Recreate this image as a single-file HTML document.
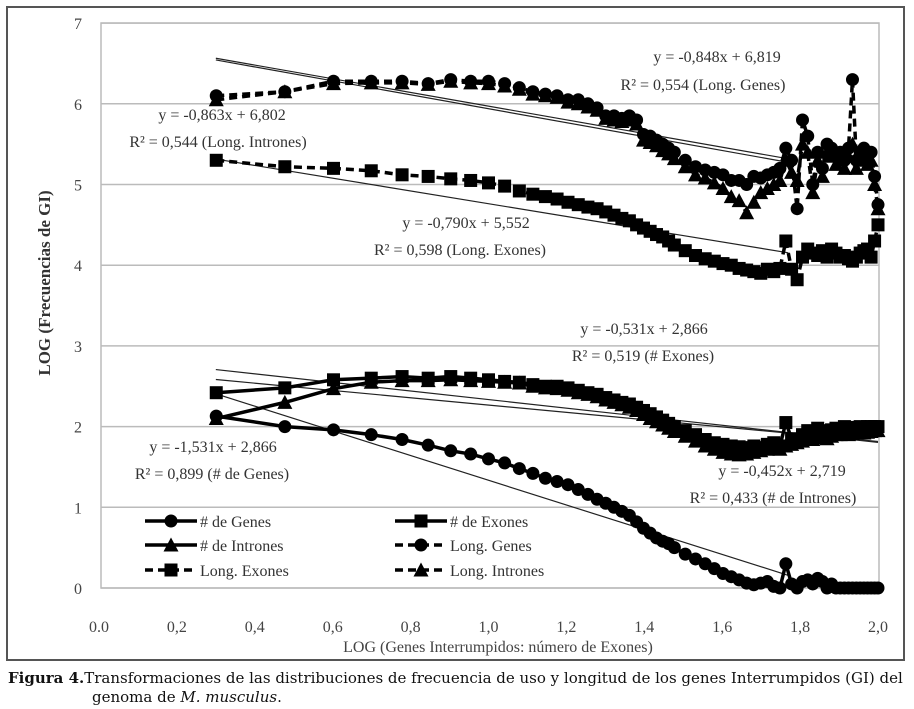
<!DOCTYPE html>
<html><head><meta charset="utf-8"><style>
body{margin:0;background:#fff;width:914px;height:709px;overflow:hidden;font-family:"Liberation Serif",serif}
svg{position:absolute;left:0;top:0}
.cap{position:absolute;left:8px;font-size:15px;color:#111;font-family:"DejaVu Serif",serif;white-space:nowrap}
</style></head><body>
<svg id="chart" width="914" height="709" xmlns="http://www.w3.org/2000/svg"></svg>
<div class="cap" style="top:669px"><b>Figura 4.</b>Transformaciones de las distribuciones de frecuencia de uso y longitud de los genes Interrumpidos (GI) del</div>
<div class="cap" style="top:688px;left:92px">genoma de <i>M. musculus</i>.</div>
<script>
const exonCounts=[2,3,4,5,6,7,8,9,10,11,12,13,14,15,16,17,18,19,20,21,22,23,24,25,26,27,28,29,30,32,34,36,38,40,42,44,46,48,50,52,54,56,58,60,62,64,66,68,70,72,74,76,78,80,82,84,86,88,90,92,94,96,98,100];
const numGenes=[2.13,2.0,1.96,1.90,1.84,1.77,1.70,1.66,1.60,1.55,1.48,1.42,1.36,1.32,1.28,1.22,1.16,1.10,1.05,1.00,0.95,0.90,0.82,0.74,0.68,0.62,0.58,0.55,0.50,0.42,0.36,0.30,0.24,0.18,0.14,0.10,0.06,0.04,0.06,0.08,0.02,0.0,0.30,0.05,0.0,0.08,0.10,0.05,0.12,0.08,0.0,0.05,0.0,0.0,0.0,0.0,0.0,0.0,0.0,0,0,0,0,0];
const numExones=[2.42,2.48,2.58,2.60,2.62,2.60,2.62,2.60,2.58,2.56,2.55,2.52,2.50,2.50,2.48,2.45,2.42,2.40,2.36,2.33,2.30,2.28,2.24,2.20,2.16,2.12,2.08,2.04,2.00,1.95,1.90,1.84,1.80,1.78,1.76,1.75,1.74,1.76,1.74,1.78,1.80,1.76,2.05,1.85,1.82,1.90,1.95,1.92,1.98,1.95,1.90,1.96,1.98,1.95,2.00,1.98,1.97,1.99,2.00,1.98,2.00,2.00,2.00,2.00];
const numIntrones=[2.10,2.30,2.47,2.55,2.57,2.57,2.58,2.57,2.56,2.55,2.54,2.50,2.48,2.47,2.45,2.42,2.40,2.37,2.33,2.30,2.27,2.24,2.20,2.15,2.10,2.06,2.02,1.98,1.94,1.88,1.82,1.76,1.72,1.68,1.66,1.65,1.66,1.68,1.70,1.72,1.74,1.72,1.76,1.78,1.80,1.82,1.85,1.84,1.86,1.88,1.85,1.88,1.90,1.90,1.92,1.90,1.91,1.92,1.93,1.92,1.93,1.94,1.95,1.95];
const longGenes=[6.10,6.15,6.28,6.28,6.28,6.25,6.30,6.28,6.28,6.25,6.20,6.15,6.12,6.10,6.05,6.05,6.00,5.95,5.85,5.85,5.82,5.85,5.80,5.62,5.60,5.55,5.50,5.45,5.40,5.30,5.22,5.18,5.15,5.12,5.05,5.05,5.00,5.10,5.08,5.12,5.15,5.20,5.45,5.30,4.70,5.80,5.60,5.00,5.40,5.20,5.50,5.45,5.35,5.40,5.30,5.45,6.30,5.30,5.40,5.45,5.35,5.40,5.10,4.75];
const longExones=[5.30,5.22,5.20,5.17,5.12,5.10,5.07,5.05,5.02,4.98,4.92,4.88,4.85,4.82,4.78,4.75,4.72,4.70,4.66,4.62,4.58,4.55,4.50,4.46,4.42,4.38,4.35,4.30,4.25,4.18,4.12,4.08,4.05,4.02,4.00,3.96,3.94,3.92,3.90,3.95,3.92,3.96,4.30,3.95,3.82,4.10,4.20,4.15,4.12,4.18,4.10,4.20,4.15,4.10,4.12,4.08,4.05,4.10,4.15,4.18,4.20,4.10,4.30,4.50];
const longIntrones=[6.05,6.15,6.25,6.26,6.26,6.24,6.28,6.26,6.25,6.22,6.18,6.12,6.10,6.08,6.02,6.00,5.96,5.92,5.82,5.80,5.78,5.80,5.75,5.55,5.52,5.48,5.42,5.38,5.32,5.22,5.12,5.08,5.02,4.95,4.85,4.80,4.65,4.78,4.90,4.95,5.00,5.05,5.30,5.15,5.05,5.50,5.40,4.90,5.30,5.10,5.40,5.35,5.25,5.30,5.20,5.35,5.50,5.20,5.30,5.35,5.25,5.30,5.00,4.70];
const trendSlopes=[-1.531,-0.531,-0.452,-0.848,-0.790,-0.863];
const trendIntercepts=[2.866,2.866,2.719,6.819,5.552,6.802];
const trendEnds=[1.77,2.0,2.0,1.77,1.77,1.77];
const xTicks=[0,0.2,0.4,0.6,0.8,1.0,1.2,1.4,1.6,1.8,2.0];
const xTickLabels=["0.0","0,2","0,4","0,6","0,8","1,0","1,2","1,4","1,6","1,8","2,0"];
const yTicks=[0,1,2,3,4,5,6,7];

const svg=document.getElementById('chart');
const NS='http://www.w3.org/2000/svg';
const X=v=>99+v*389.5;
const Y=v=>588-v*80.7;
function mk(tag,attrs,parent){const e=document.createElementNS(NS,tag);for(const k in attrs)e.setAttribute(k,attrs[k]);(parent||svg).appendChild(e);return e;}

let fr=mk('rect',{x:7,y:7,width:897,height:653,fill:'none',stroke:'#555','stroke-width':2});


let pa=mk('rect',{x:101,y:23,width:778,height:565,fill:'none',stroke:'#bbb','stroke-width':1.5});


yTicks.forEach(t=>{
  let g=mk('line',{x1:101,x2:879,y1:Y(t),y2:Y(t),stroke:'#bbb','stroke-width':1.5});
  
  
  let l=mk('text',{x:78,y:Y(t)+6,'text-anchor':'middle','font-size':16,fill:'#444','font-family':'Liberation Serif, serif'});
  l.textContent=String(t);
  
  
});
xTicks.forEach((t,i)=>{
  let l=mk('text',{x:X(t),y:632,'text-anchor':'middle','font-size':16,fill:'#444','font-family':'Liberation Serif, serif'});
  l.textContent=xTickLabels[i];
  
  
});
let xt=mk('text',{x:498,y:652,'text-anchor':'middle','font-size':16,fill:'#444','font-family':'Liberation Serif, serif'});
xt.textContent='LOG (Genes Interrumpidos: número de Exones)';


let yt=mk('text',{x:0,y:0,'text-anchor':'middle','font-size':17,'font-weight':'bold',fill:'#333','font-family':'Liberation Serif, serif',transform:'translate(50,283) rotate(-90)'});
yt.textContent='LOG (Frecuencias  de GI)';



trendSlopes.forEach((m,i)=>{
  let l=mk('line',{x1:X(0.3),y1:Y(m*0.3+trendIntercepts[i]),x2:X(trendEnds[i]),y2:Y(m*trendEnds[i]+trendIntercepts[i]),stroke:'#222','stroke-width':1.2});
  
  
});

function marker(type,cx,cy,g){
  if(type==='circle')return mk('circle',{cx:cx,cy:cy,r:6.5,fill:'#000'},g);
  if(type==='square')return mk('rect',{x:cx-6.5,y:cy-6.5,width:13,height:13,fill:'#000'},g);
  return mk('polygon',{points:`${cx},${cy-7.5} ${cx+7.5},${cy+6.5} ${cx-7.5},${cy+6.5}`,fill:'#000'},g);
}
const seriesList=[
 ['series-num-genes',numGenes,'circle',false],
 ['series-num-exones',numExones,'square',false],
 ['series-num-intrones',numIntrones,'triangle',false],
 ['series-long-genes',longGenes,'circle',true],
 ['series-long-exones',longExones,'square',true],
 ['series-long-intrones',longIntrones,'triangle',true]];
seriesList.forEach(s=>{
  const g=mk('g',{});
  
  
  const pts=exonCounts.map((n,i)=>X(Math.log10(n))+','+Y(s[1][i])).join(' ');
  const pl=mk('polyline',{points:pts,fill:'none',stroke:'#000','stroke-width':3.5,'stroke-dasharray':s[3]?'8,5':'none'},g);
  
  
  exonCounts.forEach((n,i)=>{
    const m=marker(s[2],X(Math.log10(n)),Y(s[1][i]),g);
    
    
  });
});

const ann=[[717,62,'y = -0,848x + 6,819'],[703,90,'R² = 0,554 (Long. Genes)'],[222,120,'y = -0,863x + 6,802'],[218,147,'R² = 0,544 (Long. Intrones)'],[466,228,'y = -0,790x + 5,552'],[460,255,'R² = 0,598 (Long. Exones)'],[644,334,'y = -0,531x + 2,866'],[643,361,'R² = 0,519 (# Exones)'],[213,452,'y = -1,531x + 2,866'],[212,479,'R² = 0,899 (# de Genes)'],[782,476,'y = -0,452x + 2,719'],[773,503,'R² = 0,433 (# de Intrones)']];
ann.forEach(a=>{
  let t=mk('text',{x:a[0],y:a[1],'text-anchor':'middle','font-size':16,fill:'#333','font-family':'Liberation Serif, serif'});
  t.textContent=a[2];
  
  
});

const legend=[[145,521,'circle',false,'# de Genes'],[395,521,'square',false,'# de Exones'],[145,545,'triangle',false,'# de Intrones'],[395,545,'circle',true,'Long. Genes'],[145,570,'square',true,'Long. Exones'],[395,570,'triangle',true,'Long. Intrones']];
legend.forEach(l=>{
  const g=mk('g',{});
  
  
  mk('line',{x1:l[0],x2:l[0]+52,y1:l[1],y2:l[1],stroke:'#000','stroke-width':3.5,'stroke-dasharray':l[3]?'8,5':'none'},g);
  marker(l[2],l[0]+26,l[1],g);
  const t=mk('text',{x:l[0]+55,y:l[1]+6,'font-size':16,fill:'#333','font-family':'Liberation Serif, serif'},g);
  t.textContent=l[4];
});
</script>
</body></html>
